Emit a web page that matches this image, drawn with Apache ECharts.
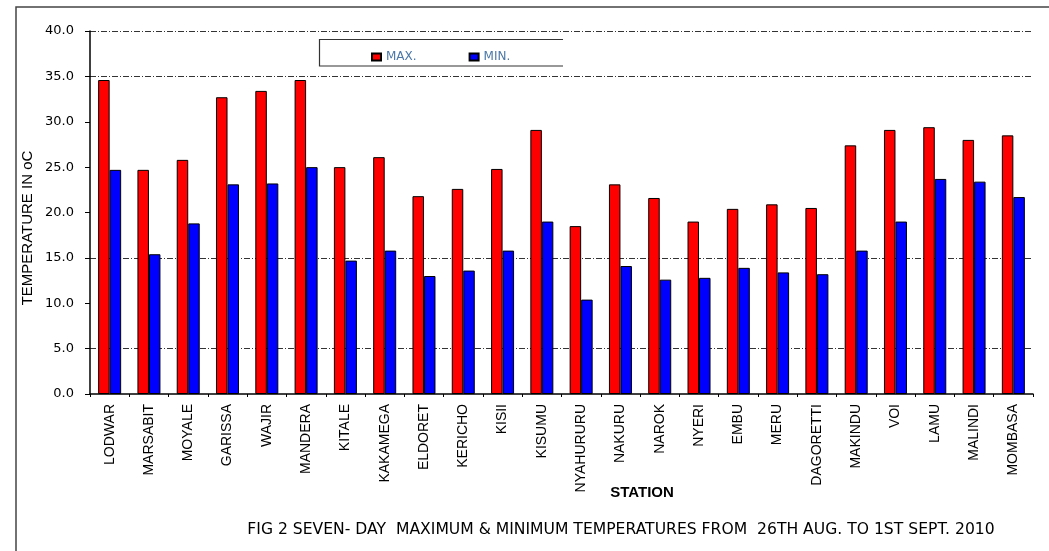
<!DOCTYPE html>
<html>
<head>
<meta charset="utf-8">
<script src="https://cdn.jsdelivr.net/npm/echarts@6/dist/echarts.min.js"></script>
<style>
html,body{margin:0;padding:0;background:#fff;}
#chart{width:1049px;height:551px;}
</style>
</head>
<body>
<div id="chart"></div>
<script>
const stations = ['LODWAR','MARSABIT','MOYALE','GARISSA','WAJIR','MANDERA','KITALE','KAKAMEGA','ELDORET','KERICHO','KISII','KISUMU','NYAHURURU','NAKURU','NAROK','NYERI','EMBU','MERU','DAGORETTI','MAKINDU','VOI','LAMU','MALINDI','MOMBASA'];
const maxTemp = [34.6,24.7,25.8,32.7,33.4,34.6,25.0,26.1,21.8,22.6,24.8,29.1,18.5,23.1,21.6,19.0,20.4,20.9,20.5,27.4,29.1,29.4,28.0,28.5];
const minTemp = [24.7,15.4,18.8,23.1,23.2,25.0,14.7,15.8,13.0,13.6,15.8,19.0,10.4,14.1,12.6,12.8,13.9,13.4,13.2,15.8,19.0,23.7,23.4,21.7];
const seriesNames = ['MAX.','MIN.'];
const yTicks = {min:0, max:40, interval:5};
const captionText = 'FIG 2 SEVEN- DAY  MAXIMUM & MINIMUM TEMPERATURES FROM  26TH AUG. TO 1ST SEPT. 2010';
const xTitle = 'STATION';
const yTitle = 'TEMPERATURE IN oC';

const chart = echarts.init(document.getElementById('chart'), null, {renderer:'canvas'});
const gridColor = '#333';
const option = {
  backgroundColor:'#fff',
  animation:false,
  textStyle:{fontFamily:'Liberation Sans, Arial, sans-serif'},
  legend:{
    data:seriesNames,
    left:366, top:46,
    itemWidth:9, itemHeight:7, itemGap:52,
    icon:'rect',
    textStyle:{fontSize:12, color:'#4a78a8', fontFamily:'DejaVu Sans'}
  },
  grid:{left:90, right:16, top:31, bottom:157, containLabel:false},
  xAxis:{
    type:'category',
    data:stations,
    axisLine:{lineStyle:{color:'#000', width:1.5}},
    axisTick:{show:true, length:3, lineStyle:{color:'#000'}},
    axisLabel:{rotate:90, interval:0, margin:10, fontSize:14, color:'#000', fontFamily:'Liberation Sans'}
  },
  yAxis:{
    type:'value',
    min:yTicks.min, max:yTicks.max, interval:yTicks.interval,
    axisLine:{show:true, lineStyle:{color:'#000', width:1.5}},
    axisTick:{show:true, length:5, lineStyle:{color:'#000'}},
    axisLabel:{margin:16, fontSize:13, color:'#000', fontFamily:'DejaVu Sans', formatter:v=>v.toFixed(1)},
    splitLine:{show:true, lineStyle:{
      color:['rgba(0,0,0,0)',gridColor,'rgba(0,0,0,0)',gridColor,'rgba(0,0,0,0)','rgba(0,0,0,0)','rgba(0,0,0,0)',gridColor,gridColor],
      type:[6,2,1,2], width:1.2}}
  },
  series:[
    {name:seriesNames[0], type:'bar', data:maxTemp, barWidth:11.5, barGap:'0%',
     itemStyle:{color:'#ff0000', borderColor:'#000', borderWidth:1}},
    {name:seriesNames[1], type:'bar', data:minTemp, barWidth:11.5, barGap:'0%',
     itemStyle:{color:'#0000ff', borderColor:'#000', borderWidth:1}}
  ],
  graphic:[
    {type:'polyline', shape:{points:[[1049,7],[16,7],[16,551]]}, style:{stroke:'#444', lineWidth:1.5, fill:null}, silent:true},
    {type:'polyline', shape:{points:[[563,39.5],[319.5,39.5],[319.5,66],[563,66]]}, style:{stroke:'#333', lineWidth:1.2, fill:null}, silent:true},
    {type:'text', x:28, y:228, rotation:Math.PI/2, style:{text:yTitle, fontSize:15, fill:'#000', align:'center', verticalAlign:'middle', fontFamily:'Liberation Sans'}},
    {type:'text', x:642, y:493, style:{text:xTitle, fontSize:15, fontWeight:'bold', fill:'#000', align:'center', verticalAlign:'middle', fontFamily:'Liberation Sans'}},
    {type:'text', x:621, y:530, style:{text:captionText, fontSize:15.6, fill:'#000', align:'center', verticalAlign:'middle', fontFamily:'DejaVu Sans'}}
  ]
};
chart.setOption(option);
</script>
</body>
</html>
